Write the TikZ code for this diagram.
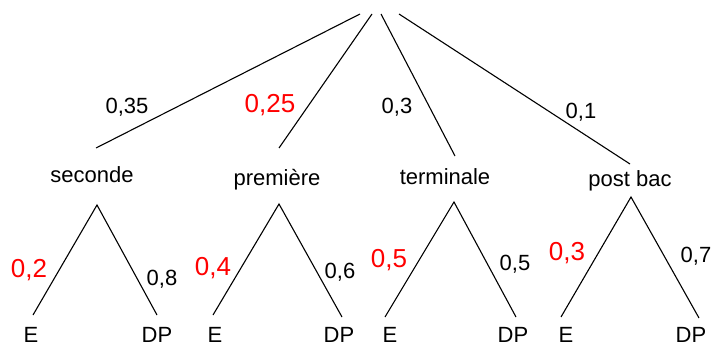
\documentclass[tikz,border=0pt]{standalone}
\usepackage{fontspec}
\setmainfont{Liberation Sans}
\usepackage{xcolor}
\usepackage{tikz}
\usetikzlibrary{calc}
\definecolor{probRed}{HTML}{FF0000}

\begin{document}
\begin{tikzpicture}[x=1pt, y=-1pt, line width=1.1pt,
  lbl/.style={font=\fontsize{22}{24}\selectfont, anchor=base, inner sep=0pt},
  rlbl/.style={lbl, text=probRed, font=\fontsize{26}{28}\selectfont}]
\useasboundingbox (0,0) rectangle (712,345);
\coordinate (racine) at (380,14);
% first level
\node[lbl] (sec) at (92,182) {seconde};
\node[lbl] (pre) at (277,185) {première};
\node[lbl] (ter) at (445,184) {terminale};
\node[lbl] (pb) at (630,186) {post bac};
\coordinate (sec-h) at (96,148);  \coordinate (sec-b) at (97,205);
\coordinate (pre-h) at (279,148); \coordinate (pre-b) at (279,204);
\coordinate (ter-h) at (455,156); \coordinate (ter-b) at (454,202);
\coordinate (pb-h) at (630,164);  \coordinate (pb-b) at (631,197);
\draw ([xshift=-20pt]racine) -- (sec-h);
\draw ([xshift=-8pt]racine) -- (pre-h);
\draw ([xshift=1pt]racine) -- (ter-h);
\draw ([xshift=19pt]racine) -- (pb-h);
\node[lbl]  (p-sec) at (127,113) {0,35};
\node[rlbl] (p-pre) at (270,112) {0,25};
\node[lbl]  (p-ter) at (397,113) {0,3};
\node[lbl]  (p-pb)  at (581,118) {0,1};
% second level
\foreach \n/\lx/\ly/\rx/\ry/\ex/\dx in {sec/33/315/157/315/31/157, pre/213/315/342/317/215/339,
    ter/385/317/516/317/390/513, pb/561/317/699/318/566/691}{
  \coordinate (\n-l) at (\lx,\ly);
  \coordinate (\n-r) at (\rx,\ry);
  \node[lbl] (\n-E) at (\ex,342) {E};
  \node[lbl] (\n-DP) at (\dx,342) {DP};
  \draw (\n-l) -- (\n-b) -- (\n-r);
}
\node[rlbl] (q-sec-E)  at (29,277)  {0,2};
\node[lbl]  (q-sec-DP) at (162,285) {0,8};
\node[rlbl] (q-pre-E)  at (213,275) {0,4};
\node[lbl]  (q-pre-DP) at (340,278) {0,6};
\node[rlbl] (q-ter-E)  at (389,267) {0,5};
\node[lbl]  (q-ter-DP) at (515,270) {0,5};
\node[rlbl] (q-pb-E)   at (567,260) {0,3};
\node[lbl]  (q-pb-DP)  at (696,262) {0,7};
\end{tikzpicture}
\end{document}
